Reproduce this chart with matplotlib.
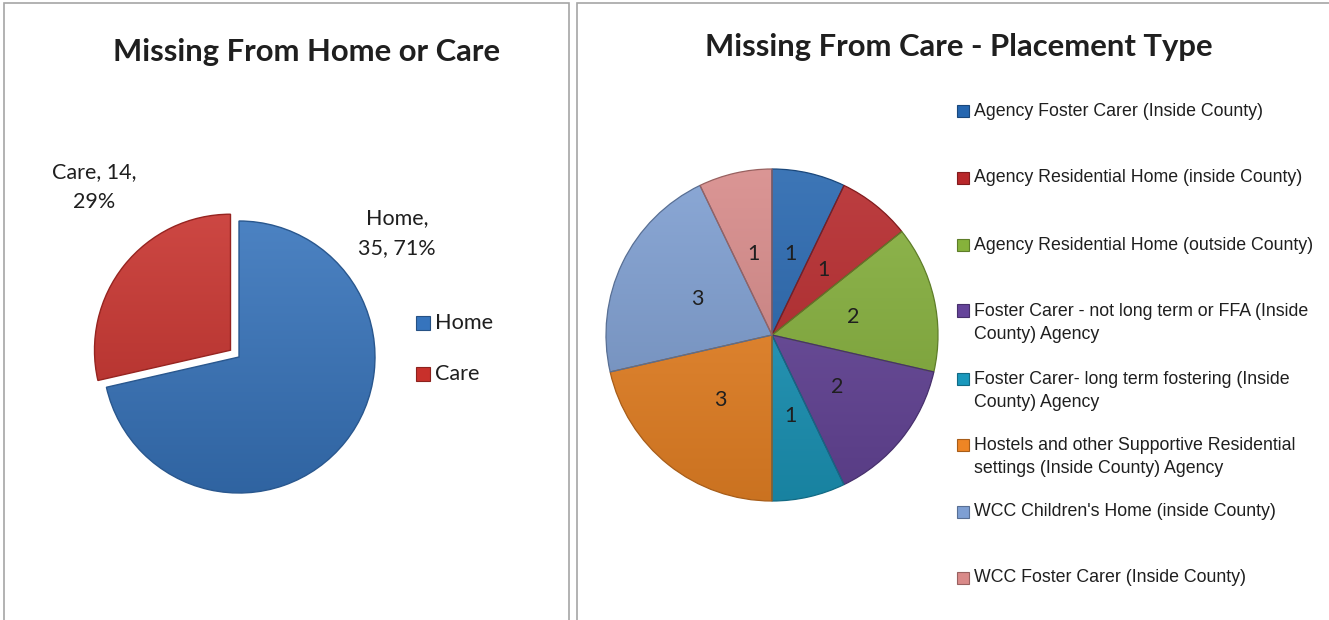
import numpy as np
import matplotlib
matplotlib.use("Agg")
import matplotlib.pyplot as plt
import matplotlib.colors as mcolors
from matplotlib.patches import Rectangle

# ---------------- data ----------------
left_title = "Missing From Home or Care"
left_categories = ["Home", "Care"]
left_values = [35, 14]
left_colors = ["#3674BD", "#C8302B"]

right_title = "Missing From Care - Placement Type"
right_categories = [
    "Agency Foster Carer (Inside County)",
    "Agency Residential Home (inside County)",
    "Agency Residential Home (outside County)",
    "Foster Carer - not long term or FFA (Inside\nCounty) Agency",
    "Foster Carer- long term fostering (Inside\nCounty) Agency",
    "Hostels and other Supportive Residential\nsettings (Inside County) Agency",
    "WCC Children's Home (inside County)",
    "WCC Foster Carer (Inside County)",
]
right_values = [1, 1, 2, 2, 1, 3, 3, 1]
right_colors = ["#2566B0", "#B8272A", "#86B23B", "#65449A",
                "#1A98BC", "#EE8524", "#7E9FD3", "#D98A89"]

W, H = 1329, 620
fig = plt.figure(figsize=(W / 100, H / 100), dpi=100)
fig.patch.set_facecolor("white")

TITLE_FONT = ["Lato", "DejaVu Sans"]
BODY_FONT = ["Lato", "DejaVu Sans"]
LEG_FONT = ["Liberation Sans", "DejaVu Sans"]
TXT = "#1f1f1f"


def fx(x):
    return x / W


def fy(y):
    return 1 - y / H


def pie_axes(cx, cy, r, lim=1.3):
    side = 2 * r * lim
    ax = fig.add_axes([fx(cx - side / 2), fy(cy + side / 2), side / W, side / H])
    ax.set_xlim(-lim, lim)
    ax.set_ylim(-lim, lim)
    ax.set_aspect("equal")
    ax.axis("off")
    return ax


def shade_wedges(ax, wedges, colors, lim, light_f=0.12, dark_f=0.84):
    n = 256
    t = np.linspace(0, 1, n)[:, None]
    for w, c in zip(wedges, colors):
        rgb = np.array(mcolors.to_rgb(c))
        light = rgb + (1 - rgb) * light_f
        dark = rgb * dark_f
        arr = light * (1 - t) + dark * t
        img = np.repeat(arr[:, None, :], 2, axis=1)
        im = ax.imshow(img, extent=[-1.15, 1.15, -1.15, 1.15], origin="upper",
                       interpolation="bilinear", aspect="auto", zorder=2)
        im.set_clip_path(w)
        w.set_zorder(1)
    ax.set_xlim(-lim, lim)
    ax.set_ylim(-lim, lim)
    ax.set_aspect("equal")


def darker(c, f=0.7):
    return tuple(np.array(mcolors.to_rgb(c)) * f)


# ---------------- panel borders ----------------
fig.patches.append(Rectangle((fx(4), fy(640)), fx(569) - fx(4), fy(3) - fy(640),
                             transform=fig.transFigure, fill=False,
                             edgecolor="#A6A6A6", linewidth=1.2))
fig.patches.append(Rectangle((fx(577), fy(640)), fx(1340) - fx(577), fy(3) - fy(640),
                             transform=fig.transFigure, fill=False,
                             edgecolor="#A6A6A6", linewidth=1.2))

# ---------------- left pie ----------------
axL = pie_axes(239, 357, 136)
explode = [0, 0.08]
wL, _ = axL.pie(left_values, colors=left_colors, startangle=90, counterclock=False,
                explode=explode, radius=1.0, wedgeprops=dict(linewidth=0))
shade_wedges(axL, wL, left_colors, 1.3)
for w, c in zip(wL, left_colors):
    w.set_edgecolor(darker(c, 0.75))
    w.set_linewidth(1.0)
    w.set_facecolor("none")
    w.set_zorder(3)

total_L = sum(left_values)
pcts = [round(100 * v / total_L) for v in left_values]
lbl_home = f"{left_categories[0]},\n{left_values[0]}, {pcts[0]}%"
lbl_care = f"{left_categories[1]}, {left_values[1]},\n{pcts[1]}%"
fig.text(fx(397), fy(233), lbl_home, ha="center", va="center", fontsize=15.5,
         family=BODY_FONT, color=TXT, linespacing=1.6)
fig.text(fx(94), fy(187), lbl_care, ha="center", va="center", fontsize=15.5,
         family=BODY_FONT, color=TXT, linespacing=1.6)

fig.text(fx(307), fy(52), left_title, ha="center", va="center", fontsize=22.3,
         fontweight="bold", family=TITLE_FONT, color=TXT)

# left legend
leg_y_L = [323, 374]
for cat, col, y in zip(left_categories, left_colors, leg_y_L):
    fig.patches.append(Rectangle((fx(416), fy(y + 7)), 14 / W, 14 / H,
                                 transform=fig.transFigure, facecolor=col,
                                 edgecolor=darker(col, 0.7), linewidth=0.8))
    fig.text(fx(435), fy(y), cat, ha="left", va="center", fontsize=15.6,
             family=BODY_FONT, color=TXT)

# ---------------- right pie ----------------
axR = pie_axes(772, 335, 166, lim=1.15)
total_R = sum(right_values)
wR, _, autot = axR.pie(right_values, colors=right_colors, startangle=90,
                       counterclock=False, radius=1.0,
                       autopct=lambda p: f"{round(p * total_R / 100)}",
                       pctdistance=0.5, wedgeprops=dict(linewidth=0))
shade_wedges(axR, wR, right_colors, 1.15)
for w, c in zip(wR, right_colors):
    w.set_edgecolor(darker(c, 0.7))
    w.set_linewidth(0.9)
    w.set_zorder(3)
    w.set_facecolor("none")
for t in autot:
    t.set_fontsize(15.5)
    t.set_family(BODY_FONT)
    t.set_color(TXT)
    t.set_zorder(5)

fig.text(fx(959), fy(47), right_title, ha="center", va="center", fontsize=22.3,
         fontweight="bold", family=TITLE_FONT, color=TXT)

# right legend
leg_y_R = [111, 178, 245, 323, 391, 457, 512, 578]
for cat, col, y in zip(right_categories, right_colors, leg_y_R):
    nlines = cat.count("\n") + 1
    ytop = y - (nlines - 1) * 12.5
    fig.patches.append(Rectangle((fx(957), fy(ytop + 6)), 12 / W, 12 / H,
                                 transform=fig.transFigure, facecolor=col,
                                 edgecolor=darker(col, 0.7), linewidth=0.8))
    fig.text(fx(974), fy(y), cat, ha="left", va="center", fontsize=12.8,
             family=LEG_FONT, color=TXT, linespacing=1.48)

fig.savefig("out.png", dpi=100, facecolor="white")
